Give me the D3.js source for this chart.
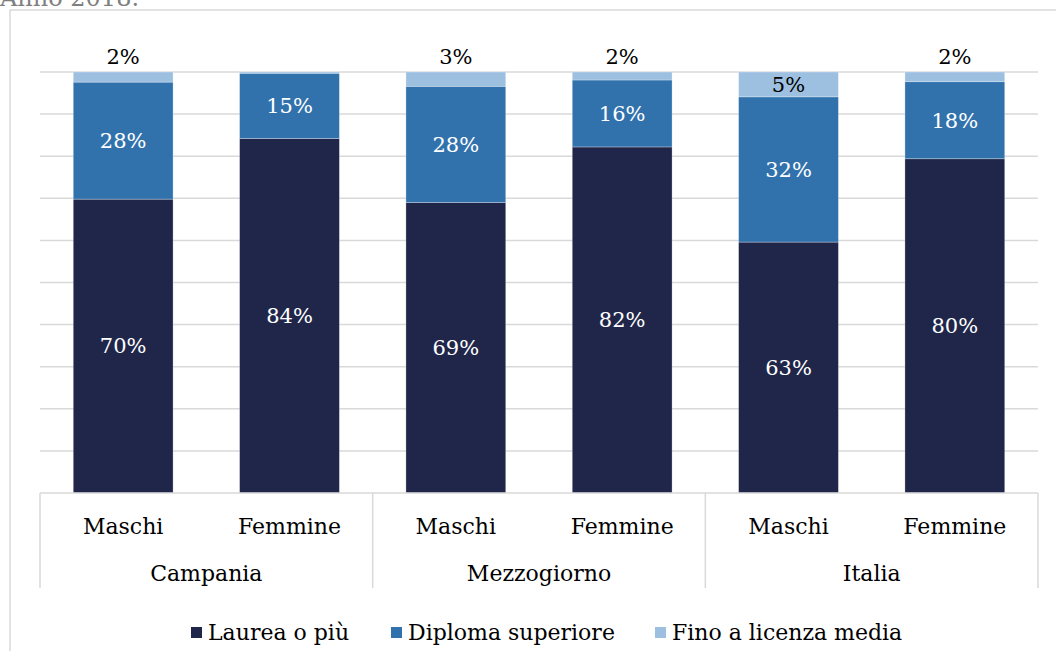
<!DOCTYPE html>
<html><head><meta charset="utf-8">
<script src="https://cdn.jsdelivr.net/npm/d3@7"></script>
<style>
html,body{margin:0;padding:0;background:#fff;overflow:hidden;}
svg{display:block;}
</style></head>
<body>
<svg id="chart" width="1056" height="651"></svg>
<script>
// ---- data ----
const groups = ["Campania", "Mezzogiorno", "Italia"];
const sexes = ["Maschi", "Femmine"];
const seriesNames = ["Laurea o più", "Diploma superiore", "Fino a licenza media"];
const laurea  = [69.8, 84.2, 69.0, 82.2, 59.6, 79.4];
const diploma = [27.8, 15.5, 27.6, 15.9, 34.5, 18.3];
const fino    = [2.4, 0.3, 3.4, 1.9, 5.9, 2.3];
const laureaLabels  = ["70%", "84%", "69%", "82%", "63%", "80%"];
const diplomaLabels = ["28%", "15%", "28%", "16%", "32%", "18%"];
const finoLabels    = ["2%", "", "3%", "2%", "5%", "2%"];
const yTicks = [0, 10, 20, 30, 40, 50, 60, 70, 80, 90, 100];
const colors = ["#20264a", "#3172ad", "#9dc0e1"];

(function () {
const FONT = "'DejaVu Serif', 'Liberation Serif', serif";
const FS = 22, FSL = 21;
const svg = d3.select("#chart").attr("font-family", FONT);
const pLeft = 40, pRight = 1038, pTop = 72, pBottom = 493;

// frame + title
svg.append("rect").attr("x", 10).attr("y", 10).attr("width", 1100).attr("height", 700)
  .attr("fill", "none").attr("stroke", "#d9d9d9").attr("stroke-width", 1.5);
svg.append("text").attr("x", 0).attr("y", 6).attr("font-size", 24).attr("fill", "#7f7f7f").text("Anno 2018.");

const cats = [];
groups.forEach(g => sexes.forEach(s => cats.push(g + "|" + s)));

const x = d3.scaleBand().domain(cats).range([pLeft, pRight]).paddingInner(0.4).paddingOuter(0.2);
const y = d3.scaleLinear().domain([0, 100]).range([pBottom, pTop]);

// gridlines
svg.append("g").selectAll("line").data(yTicks.filter(t => t > 0)).join("line")
  .attr("x1", pLeft).attr("x2", pRight)
  .attr("y1", d => y(d)).attr("y2", d => y(d))
  .attr("stroke", "#d9d9d9").attr("stroke-width", 1.5);

// stacked data
const rows = cats.map((c, i) => ({cat: c, s0: laurea[i], s1: diploma[i], s2: fino[i], i}));
const stack = d3.stack().keys(["s0", "s1", "s2"])(rows);
const labelSets = [laureaLabels, diplomaLabels, finoLabels];

stack.forEach((layer, k) => {
  svg.append("g").selectAll("rect").data(layer).join("rect")
    .attr("x", d => x(d.data.cat))
    .attr("width", x.bandwidth())
    .attr("y", d => y(d[1]))
    .attr("height", d => y(d[0]) - y(d[1]))
    .attr("fill", colors[k])
    .attr("stroke", "#ffffff").attr("stroke-opacity", 0.35).attr("stroke-width", 0.8);
});

// labels
stack.forEach((layer, k) => {
  svg.append("g").selectAll("text").data(layer).join("text")
    .attr("x", d => x(d.data.cat) + x.bandwidth() / 2)
    .attr("y", d => {
      const h = y(d[0]) - y(d[1]);
      if (k === 2 && h < 20) return y(d[1]) - 15;
      return (y(d[0]) + y(d[1])) / 2;
    })
    .attr("dy", "0.35em")
    .attr("text-anchor", "middle")
    .attr("font-size", FSL)
    .attr("fill", k === 2 ? "#000" : "#fff")
    .text(d => labelSets[k][d.data.i]);
});

// category axis
const axisG = svg.append("g");
axisG.append("line").attr("x1", pLeft).attr("x2", pRight).attr("y1", pBottom).attr("y2", pBottom)
  .attr("stroke", "#d9d9d9").attr("stroke-width", 1.5);
const groupW = (pRight - pLeft) / groups.length;
d3.range(groups.length + 1).forEach(k => {
  axisG.append("line").attr("x1", pLeft + k * groupW).attr("x2", pLeft + k * groupW)
    .attr("y1", pBottom).attr("y2", 588).attr("stroke", "#d9d9d9").attr("stroke-width", 1.5);
});
axisG.selectAll("text.sub").data(cats).join("text").attr("class", "sub")
  .attr("x", d => x(d) + x.bandwidth() / 2).attr("y", 526).attr("dy", "0.35em")
  .attr("text-anchor", "middle").attr("font-size", FS).attr("fill", "#000")
  .text(d => d.split("|")[1]);
axisG.selectAll("text.grp").data(groups).join("text").attr("class", "grp")
  .attr("x", (d, i) => pLeft + (i + 0.5) * groupW).attr("y", 573).attr("dy", "0.35em")
  .attr("text-anchor", "middle").attr("font-size", FS).attr("fill", "#000")
  .text(d => d);

// legend
const legX = [191, 391, 655];
const leg = svg.append("g");
seriesNames.forEach((n, k) => {
  leg.append("rect").attr("x", legX[k]).attr("y", 627).attr("width", 11).attr("height", 11).attr("fill", colors[k]);
  leg.append("text").attr("x", legX[k] + 17).attr("y", 632).attr("dy", "0.35em")
    .attr("font-size", FS).attr("fill", "#000").text(n);
});
})();
</script>
</body></html>
